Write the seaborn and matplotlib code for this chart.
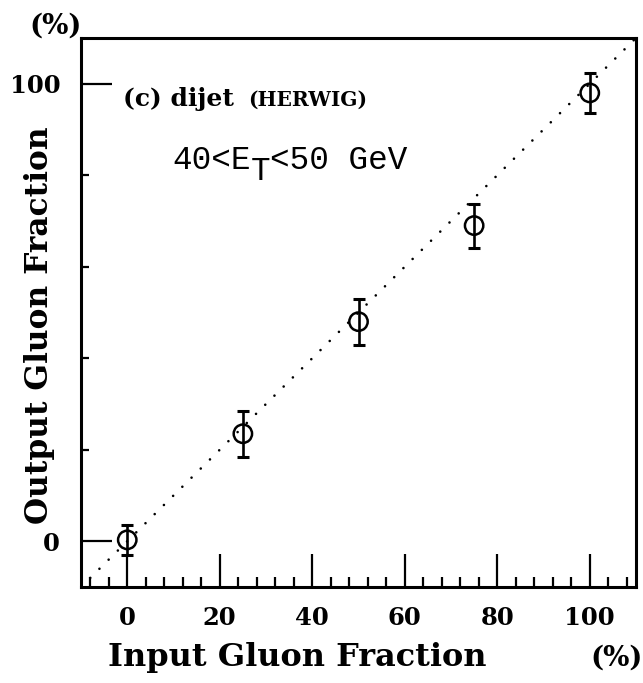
import numpy as np
import pandas as pd
import matplotlib
matplotlib.use("Agg")
import matplotlib.pyplot as plt
import seaborn as sns

# Input vs reconstructed gluon fraction, dijet sample (HERWIG), 40<ET<50 GeV
input_frac = [0, 25, 50, 75, 100]
output_frac = [0.3, 23.5, 48.0, 69.0, 98.0]
output_err = [3.3, 5.0, 5.0, 4.8, 4.3]
diag = [-10, 110]
x_major = [0, 20, 40, 60, 80, 100]
y_major = [0, 100]
y_minor = [20, 40, 60, 80]

sns.set_style("ticks", rc={"text.color": "black", "axes.labelcolor": "black",
                           "xtick.color": "black", "ytick.color": "black",
                           "axes.edgecolor": "black"})

serif = "DejaVu Serif"
mono = "Liberation Mono"
W, H = 643, 683


def fx(px):
    return px / W


def fy(py):
    return 1 - py / H


fig = plt.figure(figsize=(W / 100, H / 100), dpi=100)
ax = fig.add_axes([fx(81), fy(587), (636 - 81) / W, (587 - 38) / H])

df = pd.DataFrame({"x": input_frac, "y": output_frac, "err": output_err})

# y = x reference line
sns.lineplot(x=diag, y=diag, ax=ax, color="black", lw=1.9,
             linestyle=(0, (0.01, 4.9)), dash_capstyle="round")

# error bars
ax.errorbar(df["x"], df["y"], yerr=df["err"], fmt="none", ecolor="black",
            elinewidth=1.9, capsize=4.0, capthick=2.2, zorder=3)

# open circle markers
sns.scatterplot(data=df, x="x", y="y", ax=ax, marker="o", s=175,
                facecolor="none", edgecolor="black", linewidth=1.8, zorder=4)

ax.set_xlim(-10, 110)
ax.set_ylim(-10, 110)
ax.set_xlabel("")
ax.set_ylabel("")

for s in ax.spines.values():
    s.set_linewidth(2.2)
    s.set_color("black")

ax.set_xticks(x_major)
ax.set_xticks(np.arange(-8, 110, 4), minor=True)
ax.set_xticklabels([str(v) for v in x_major], fontfamily=serif,
                   fontweight="bold", fontsize=17.5)
ax.set_yticks(y_major)
ax.set_yticks(y_minor, minor=True)
ax.set_yticklabels([str(v) for v in y_major], fontfamily=serif,
                   fontweight="bold", fontsize=17.5)

ax.tick_params(axis="x", which="major", direction="in", length=24, width=1.6,
               pad=14, bottom=True, top=False)
ax.tick_params(axis="x", which="minor", direction="in", length=7.5, width=1.6,
               bottom=True, top=False)
ax.tick_params(axis="y", which="major", direction="in", length=22, width=1.6,
               pad=15, left=True, right=False)
ax.tick_params(axis="y", which="minor", direction="in", length=5.5, width=1.6,
               left=True, right=False)

# axis titles
fig.text(fx(297.5), fy(666), "Input Gluon Fraction", ha="center",
         va="baseline", fontfamily=serif, fontweight="bold", fontsize=23)
fig.text(fx(617), fy(666), "(%)", ha="center", va="baseline",
         fontfamily=serif, fontweight="bold", fontsize=20)
fig.text(fx(40), fy(325), "Output Gluon Fraction", ha="center",
         va="center", rotation=90, fontfamily=serif, fontweight="bold",
         fontsize=22.5)
fig.text(fx(56), fy(26), "(%)", ha="center", va="center",
         fontfamily=serif, fontweight="bold", fontsize=20)

# panel annotations
fig.text(fx(123), fy(106), "(c) dijet", ha="left", va="baseline",
         fontfamily=serif, fontweight="bold", fontsize=18)
fig.text(fx(248), fy(106), "(HERWIG)", ha="left", va="baseline",
         fontfamily=serif, fontweight="bold", fontsize=14.5)

# 40<E_T<50 GeV in a monospaced face, subscript T drawn at full size, lowered
fs_mono = 23.5
adv = 0.6 * fs_mono  # monospace advance in points
anchor = (fx(172), fy(169))
for text, ncol, drop in [("40<E", 0, 0.0), ("T", 4, 8.0), ("<50 GeV", 5, 0.0)]:
    ax.annotate(text, xy=anchor, xycoords="figure fraction",
                xytext=(ncol * adv, -drop), textcoords="offset points",
                ha="left", va="baseline", fontfamily=mono, fontsize=fs_mono)

fig.savefig("out.png", dpi=100)
